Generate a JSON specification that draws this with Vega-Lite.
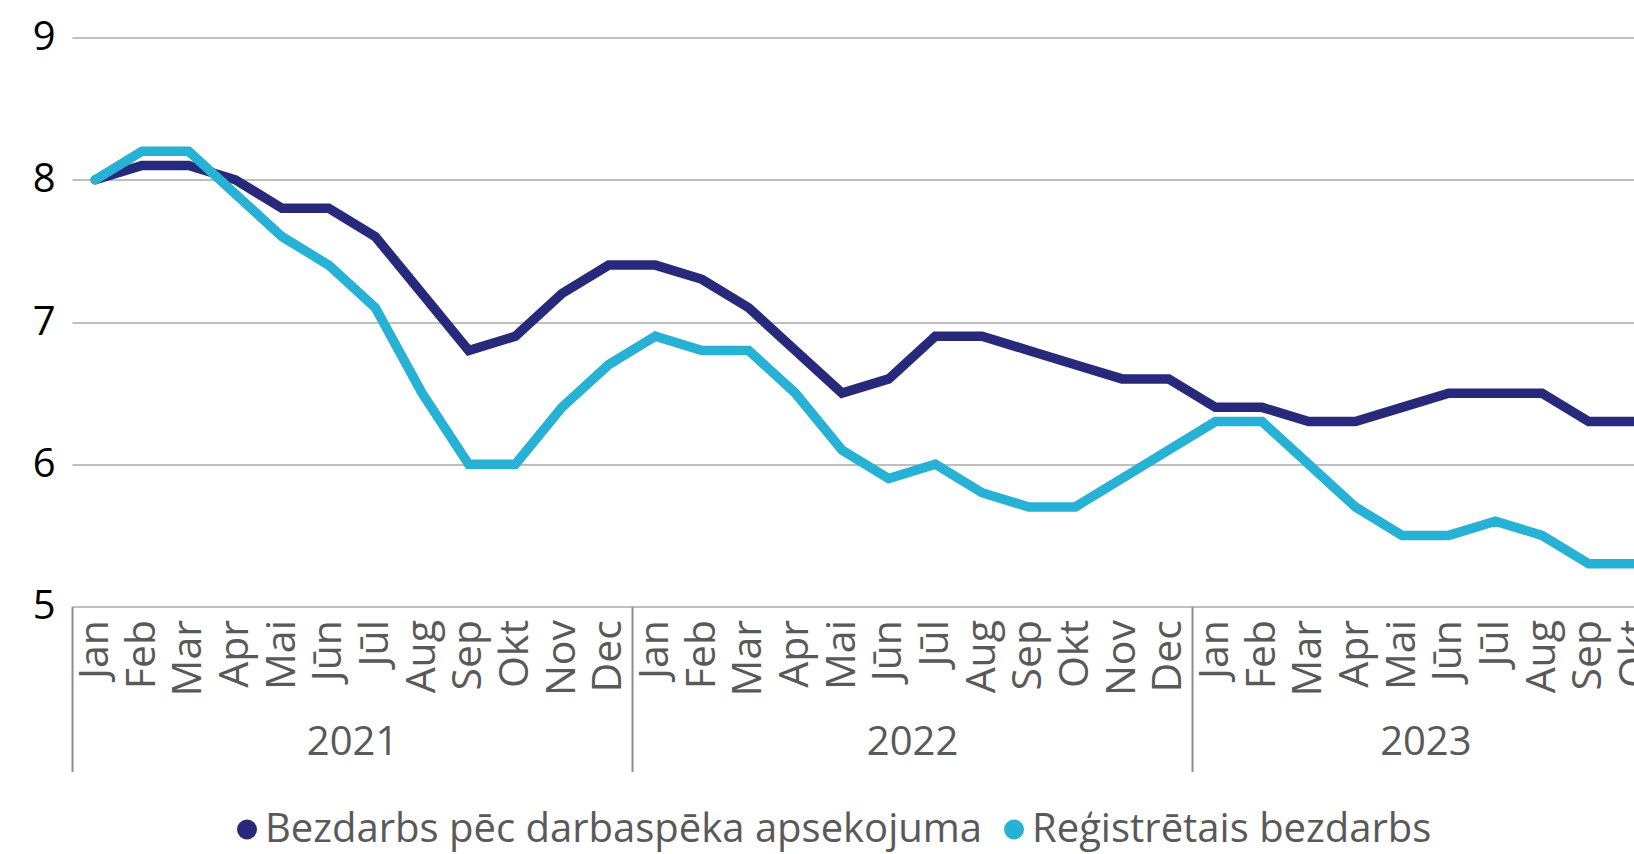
{
  "$schema": "https://vega.github.io/schema/vega-lite/v6.json",
  "autosize": {"type": "none"},
  "padding": {"left": 72, "top": 37.5, "right": 0, "bottom": 247.5},
  "width": 1562,
  "height": 569,
  "background": "white",
  "config": {"view": {"stroke": null}, "font": "Open Sans"},
  "data": {"values": [
    {"m": 0, "s": "Bezdarbs pēc darbaspēka apsekojuma", "v": 8.0},
    {"m": 1, "s": "Bezdarbs pēc darbaspēka apsekojuma", "v": 8.1},
    {"m": 2, "s": "Bezdarbs pēc darbaspēka apsekojuma", "v": 8.1},
    {"m": 3, "s": "Bezdarbs pēc darbaspēka apsekojuma", "v": 8.0},
    {"m": 4, "s": "Bezdarbs pēc darbaspēka apsekojuma", "v": 7.8},
    {"m": 5, "s": "Bezdarbs pēc darbaspēka apsekojuma", "v": 7.8},
    {"m": 6, "s": "Bezdarbs pēc darbaspēka apsekojuma", "v": 7.6},
    {"m": 7, "s": "Bezdarbs pēc darbaspēka apsekojuma", "v": 7.2},
    {"m": 8, "s": "Bezdarbs pēc darbaspēka apsekojuma", "v": 6.8},
    {"m": 9, "s": "Bezdarbs pēc darbaspēka apsekojuma", "v": 6.9},
    {"m": 10, "s": "Bezdarbs pēc darbaspēka apsekojuma", "v": 7.2},
    {"m": 11, "s": "Bezdarbs pēc darbaspēka apsekojuma", "v": 7.4},
    {"m": 12, "s": "Bezdarbs pēc darbaspēka apsekojuma", "v": 7.4},
    {"m": 13, "s": "Bezdarbs pēc darbaspēka apsekojuma", "v": 7.3},
    {"m": 14, "s": "Bezdarbs pēc darbaspēka apsekojuma", "v": 7.1},
    {"m": 15, "s": "Bezdarbs pēc darbaspēka apsekojuma", "v": 6.8},
    {"m": 16, "s": "Bezdarbs pēc darbaspēka apsekojuma", "v": 6.5},
    {"m": 17, "s": "Bezdarbs pēc darbaspēka apsekojuma", "v": 6.6},
    {"m": 18, "s": "Bezdarbs pēc darbaspēka apsekojuma", "v": 6.9},
    {"m": 19, "s": "Bezdarbs pēc darbaspēka apsekojuma", "v": 6.9},
    {"m": 20, "s": "Bezdarbs pēc darbaspēka apsekojuma", "v": 6.8},
    {"m": 21, "s": "Bezdarbs pēc darbaspēka apsekojuma", "v": 6.7},
    {"m": 22, "s": "Bezdarbs pēc darbaspēka apsekojuma", "v": 6.6},
    {"m": 23, "s": "Bezdarbs pēc darbaspēka apsekojuma", "v": 6.6},
    {"m": 24, "s": "Bezdarbs pēc darbaspēka apsekojuma", "v": 6.4},
    {"m": 25, "s": "Bezdarbs pēc darbaspēka apsekojuma", "v": 6.4},
    {"m": 26, "s": "Bezdarbs pēc darbaspēka apsekojuma", "v": 6.3},
    {"m": 27, "s": "Bezdarbs pēc darbaspēka apsekojuma", "v": 6.3},
    {"m": 28, "s": "Bezdarbs pēc darbaspēka apsekojuma", "v": 6.4},
    {"m": 29, "s": "Bezdarbs pēc darbaspēka apsekojuma", "v": 6.5},
    {"m": 30, "s": "Bezdarbs pēc darbaspēka apsekojuma", "v": 6.5},
    {"m": 31, "s": "Bezdarbs pēc darbaspēka apsekojuma", "v": 6.5},
    {"m": 32, "s": "Bezdarbs pēc darbaspēka apsekojuma", "v": 6.3},
    {"m": 33, "s": "Bezdarbs pēc darbaspēka apsekojuma", "v": 6.3},
    {"m": 0, "s": "Reģistrētais bezdarbs", "v": 8.0},
    {"m": 1, "s": "Reģistrētais bezdarbs", "v": 8.2},
    {"m": 2, "s": "Reģistrētais bezdarbs", "v": 8.2},
    {"m": 3, "s": "Reģistrētais bezdarbs", "v": 7.9},
    {"m": 4, "s": "Reģistrētais bezdarbs", "v": 7.6},
    {"m": 5, "s": "Reģistrētais bezdarbs", "v": 7.4},
    {"m": 6, "s": "Reģistrētais bezdarbs", "v": 7.1},
    {"m": 7, "s": "Reģistrētais bezdarbs", "v": 6.5},
    {"m": 8, "s": "Reģistrētais bezdarbs", "v": 6.0},
    {"m": 9, "s": "Reģistrētais bezdarbs", "v": 6.0},
    {"m": 10, "s": "Reģistrētais bezdarbs", "v": 6.4},
    {"m": 11, "s": "Reģistrētais bezdarbs", "v": 6.7},
    {"m": 12, "s": "Reģistrētais bezdarbs", "v": 6.9},
    {"m": 13, "s": "Reģistrētais bezdarbs", "v": 6.8},
    {"m": 14, "s": "Reģistrētais bezdarbs", "v": 6.8},
    {"m": 15, "s": "Reģistrētais bezdarbs", "v": 6.5},
    {"m": 16, "s": "Reģistrētais bezdarbs", "v": 6.1},
    {"m": 17, "s": "Reģistrētais bezdarbs", "v": 5.9},
    {"m": 18, "s": "Reģistrētais bezdarbs", "v": 6.0},
    {"m": 19, "s": "Reģistrētais bezdarbs", "v": 5.8},
    {"m": 20, "s": "Reģistrētais bezdarbs", "v": 5.7},
    {"m": 21, "s": "Reģistrētais bezdarbs", "v": 5.7},
    {"m": 22, "s": "Reģistrētais bezdarbs", "v": 5.9},
    {"m": 23, "s": "Reģistrētais bezdarbs", "v": 6.1},
    {"m": 24, "s": "Reģistrētais bezdarbs", "v": 6.3},
    {"m": 25, "s": "Reģistrētais bezdarbs", "v": 6.3},
    {"m": 26, "s": "Reģistrētais bezdarbs", "v": 6.0},
    {"m": 27, "s": "Reģistrētais bezdarbs", "v": 5.7},
    {"m": 28, "s": "Reģistrētais bezdarbs", "v": 5.5},
    {"m": 29, "s": "Reģistrētais bezdarbs", "v": 5.5},
    {"m": 30, "s": "Reģistrētais bezdarbs", "v": 5.6},
    {"m": 31, "s": "Reģistrētais bezdarbs", "v": 5.5},
    {"m": 32, "s": "Reģistrētais bezdarbs", "v": 5.3},
    {"m": 33, "s": "Reģistrētais bezdarbs", "v": 5.3}
  ]},
  "resolve": {"axis": {"x": "independent"}},
  "layer": [
    {
      "mark": {"type": "line", "strokeWidth": 9.5, "strokeCap": "round", "strokeJoin": "miter"},
      "encoding": {
        "x": {
          "field": "m", "type": "quantitative",
          "scale": {"domain": [-0.5, 33.5], "range": [0, 1586.7], "nice": false, "zero": false},
          "axis": {
            "orient": "bottom", "title": null, "grid": false, "domain": false, "ticks": false,
            "values": [0,1,2,3,4,5,6,7,8,9,10,11,12,13,14,15,16,17,18,19,20,21,22,23,24,25,26,27,28,29,30,31,32,33],
            "labelExpr": "['Jan','Feb','Mar','Apr','Mai','Jūn','Jūl','Aug','Sep','Okt','Nov','Dec'][datum.value % 12]",
            "labelAngle": -90, "labelAlign": "right", "labelBaseline": "middle",
            "labelFont": "Open Sans", "labelFontSize": 41, "labelColor": "#595959",
            "labelPadding": 13, "labelOverlap": false, "labelFlush": false, "labelBound": false
          }
        },
        "y": {
          "field": "v", "type": "quantitative",
          "scale": {"domain": [5, 9], "nice": false, "zero": false},
          "axis": {
            "title": null, "values": [5, 6, 7, 8, 9], "format": "d", "grid": true, "gridColor": "#BFBFBF", "gridWidth": 2,
            "domain": false, "ticks": false, "labelFont": "Open Sans", "labelFontSize": 40,
            "labelColor": "#000000", "labelPadding": 17, "labelFlush": false
          }
        },
        "color": {
          "field": "s", "type": "nominal",
          "scale": {"domain": ["Bezdarbs pēc darbaspēka apsekojuma", "Reģistrētais bezdarbs"], "range": ["#27297A", "#27B1D4"]},
          "legend": {
            "title": null, "orient": "none", "direction": "horizontal", "legendX": 155, "legendY": 772,
            "symbolType": "circle", "symbolSize": 400, "symbolStrokeWidth": 0,
            "labelFont": "Open Sans", "labelFontSize": 40, "labelColor": "#595959", "labelLimit": 1000,
            "labelOffset": -2, "columnPadding": 11, "padding": 0,
            "encode": {"symbols": {"update": {"fill": {"scale": "color", "field": "value"}, "opacity": {"value": 1}}}}
          }
        }
      }
    },
    {
      "mark": {"type": "point", "opacity": 0},
      "encoding": {
        "x": {
          "field": "m", "type": "quantitative",
          "axis": {
            "orient": "bottom", "title": null, "grid": false, "domain": false, "ticks": true,
            "values": [-0.5, 11.5, 23.5, 5.5, 17.5, 28.5],
            "tickSize": 165, "tickWidth": 2, "tickColor": "#8C8C8C",
            "tickOpacity": {"condition": {"test": "datum.value == -0.5 || datum.value == 11.5 || datum.value == 23.5", "value": 1}, "value": 0},
            "labelExpr": "datum.value == 5.5 ? '2021' : datum.value == 17.5 ? '2022' : datum.value == 28.5 ? '2023' : ''",
            "labelAngle": 0, "labelAlign": "center", "labelBaseline": "middle",
            "labelFont": "Open Sans", "labelFontSize": 40, "labelColor": "#595959",
            "labelPadding": -29, "labelOverlap": false, "labelFlush": false, "labelBound": false
          }
        },
        "y": {"field": "v", "type": "quantitative"}
      }
    }
  ]
}
